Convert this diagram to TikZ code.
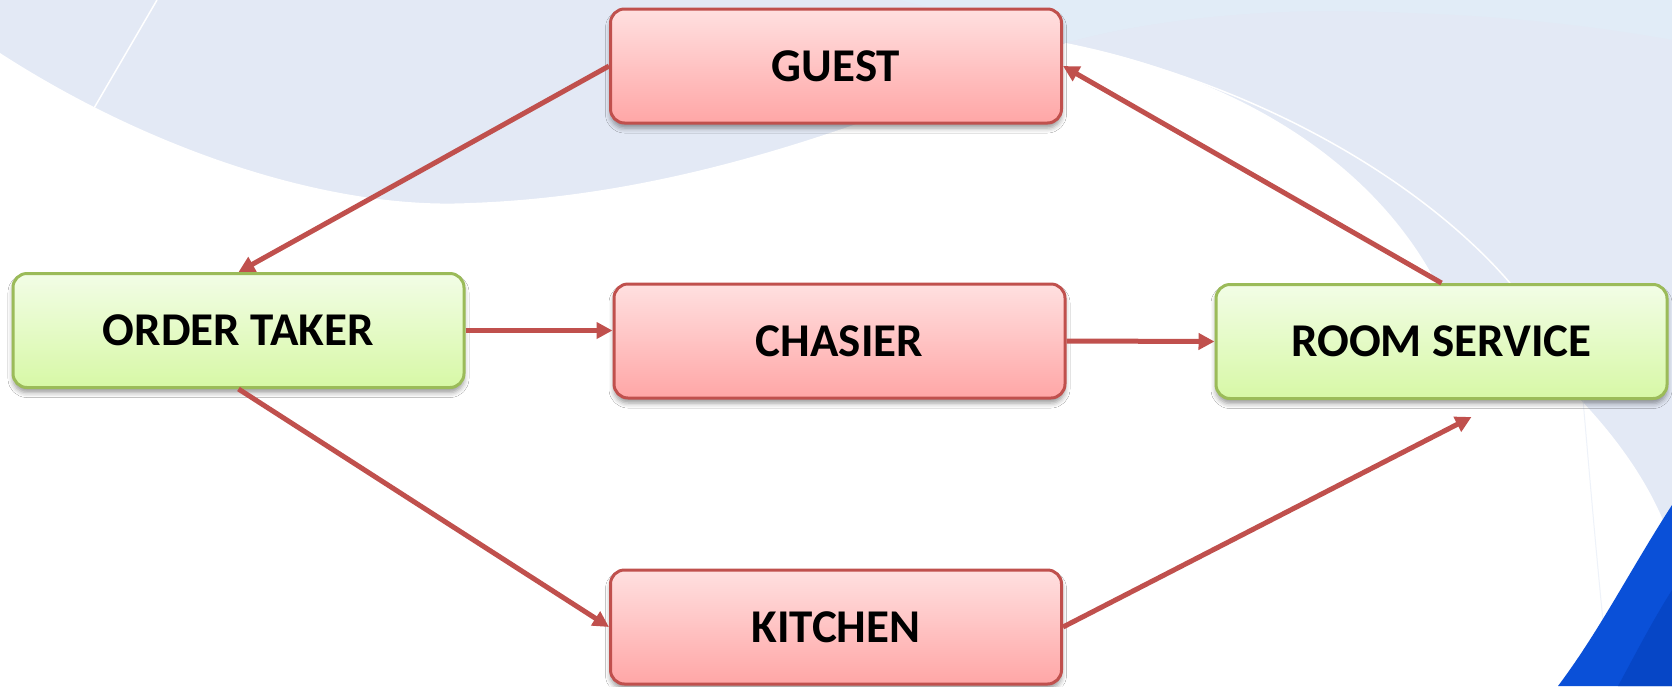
\documentclass[tikz,border=0pt]{standalone}
\usepackage{fontspec}
\setmainfont{Carlito}
\usetikzlibrary{arrows.meta,shadows.blur,calc}
\definecolor{bgblue}{HTML}{E3E9F5}
\definecolor{bgtop}{HTML}{E1ECF7}
\definecolor{cornerblue}{HTML}{0A50D8}
\definecolor{cornerblue2}{HTML}{0646C6}
\definecolor{boxred}{HTML}{C0504D}
\definecolor{redtop}{HTML}{FFE0E0}
\definecolor{redbot}{HTML}{FFA6A6}
\definecolor{boxgreen}{HTML}{9BBB59}
\definecolor{greentop}{HTML}{F2FDE6}
\definecolor{greenbot}{HTML}{D7F8A6}
\definecolor{arrowred}{HTML}{C0504D}
\begin{document}
\begin{tikzpicture}[x=1pt,y=-1pt,
  box/.style={rectangle, rounded corners=14pt, line width=3pt,
    minimum width=451pt, minimum height=114pt, inner sep=0pt,
    font=\fontsize{47}{56}\selectfont\bfseries, text=black,
    blur shadow={shadow xshift=0pt, shadow yshift=-5pt, shadow blur radius=5pt, shadow opacity=40}},
  redbox/.style={box, draw=boxred, top color=redtop, bottom color=redbot},
  greenbox/.style={box, draw=boxgreen, top color=greentop, bottom color=greenbot},
  conn/.style={draw=arrowred, line width=5pt, -{Triangle[length=16pt,width=16pt]}}
]
\useasboundingbox (0,0) rectangle (1672,686);
% background
\fill[bgblue] (0,0) rectangle (1672,686);
\fill[bgtop] (1066,43) .. controls (1200,5) and (1450,-10) .. (1672,60) -- (1672,0) -- (900,0) -- cycle;
\fill[bgblue] (1066,43) .. controls (1230,20) and (1450,20) .. (1672,120) -- (1672,40) .. controls (1450,0) and (1200,5) .. (1066,43) -- cycle;
\fill[white] (0,53) .. controls (150,150) and (330,210) .. (470,203)
  .. controls (700,195) and (900,110) .. (1066,43)
  .. controls (1250,80) and (1380,170) .. (1440,290)
  .. controls (1530,340) and (1640,440) .. (1672,545)
  -- (1672,686) -- (0,686) -- cycle;
\draw[white, line width=1.5pt] (157,0) -- (90,115);
\draw[white, line width=1.5pt] (1093,50) .. controls (1280,95) and (1430,190) .. (1510,283);
\draw[bgblue!60!white, line width=1pt] (1583,400) .. controls (1590,480) and (1600,600) .. (1610,686);
\fill[cornerblue] (1672,505) .. controls (1630,570) and (1600,630) .. (1558,686) -- (1672,686) -- cycle;
\fill[cornerblue2] (1672,590) .. controls (1650,625) and (1635,655) .. (1618,686) -- (1672,686) -- cycle;
% nodes
\node[redbox] (guest) at (836,66) {GUEST};
\node[greenbox] (order) at (238.5,330.5) {ORDER TAKER};
\node[redbox] (chasier) at (839.5,341) {CHASIER};
\node[greenbox] (room) at (1441.5,341.5) {ROOM SERVICE};
\node[redbox] (kitchen) at (836,627) {KITCHEN};
% connectors
\draw[conn] (guest.west) -- (order.north);
\draw[conn] (order.east) -- (order.east -| chasier.west);
\draw[conn] (order.south) -- (kitchen.west);
\draw[conn] (chasier.east) -- (room.west);
\coordinate (rsk) at ($(room.south)+(30,17)$);
\draw[conn] (kitchen.east) -- (rsk);
\draw[conn] (room.north) -- (guest.east);
\end{tikzpicture}
\end{document}
